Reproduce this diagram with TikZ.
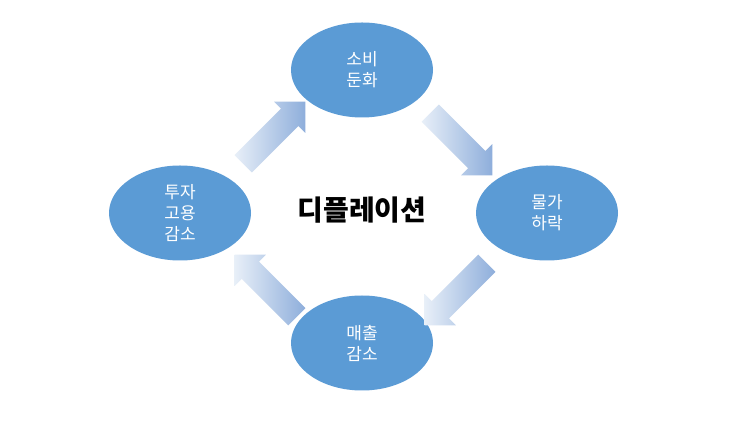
\documentclass[tikz,border=0pt]{standalone}
\usepackage{fontspec}
\setmainfont{Noto Sans CJK KR}
\usetikzlibrary{shapes.arrows,shapes.geometric}
\definecolor{ellblue}{HTML}{5B9BD5}
\definecolor{arlight}{HTML}{E8EFF8}
\definecolor{ardark}{HTML}{8EAEDB}
\tikzset{
  ell/.style={ellipse, fill=ellblue, minimum width=142pt, minimum height=95pt, inner sep=0pt, text=white, font=\fontsize{17}{21}\selectfont, align=center},
  flow/.style={single arrow, minimum height=88pt, minimum width=44pt, single arrow head extend=10pt, single arrow tip angle=90, inner xsep=0pt, inner ysep=12pt, left color=arlight, right color=ardark, draw=none}
}
\begin{document}
\begin{tikzpicture}[x=1pt,y=1pt]
\useasboundingbox[fill=white] (0,0) rectangle (746,422);
\node[ell] (top) at (362,352) {소비\\둔화};
\node[ell] (right) at (547,209) {물가\\하락};
\node[ell] (bot) at (362,79) {매출\\감소};
\node[ell] (left) at (180,209) {투자\\고용\\감소};
\node[font=\fontsize{28}{32}\selectfont\bfseries] (mid) at (362,212) {디플레이션};
\node[flow, rotate=-45] (a1) at (457,282) {};
\node[flow, rotate=-135] (a2) at (460,132) {};
\node[flow, rotate=135] (a3) at (270,132) {};
\node[flow, rotate=45] (a4) at (270,285) {};
\end{tikzpicture}
\end{document}
